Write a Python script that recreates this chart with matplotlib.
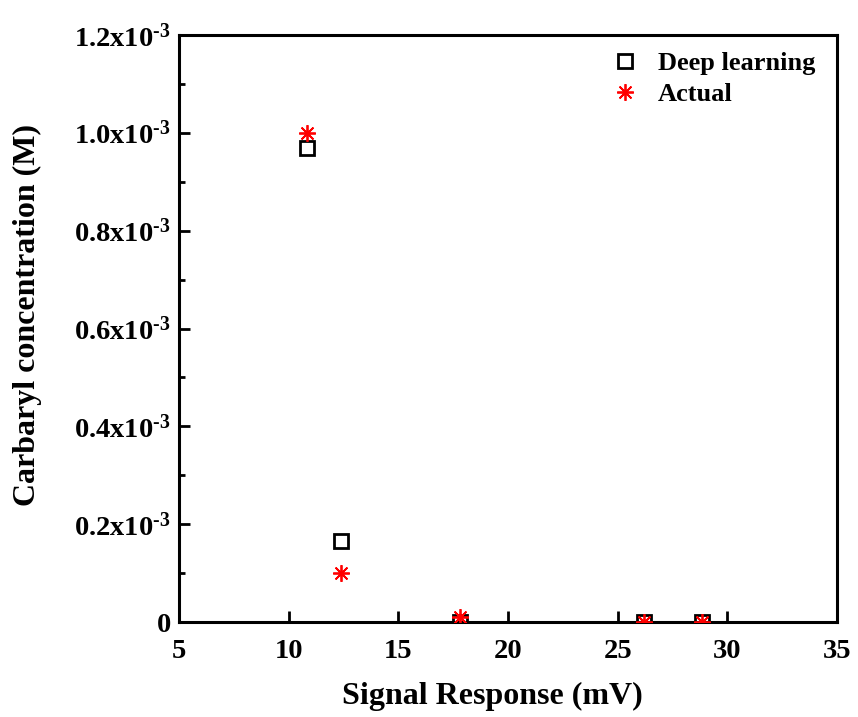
import matplotlib
matplotlib.use("Agg")
import matplotlib.pyplot as plt
from matplotlib.ticker import FuncFormatter, MultipleLocator

plt.rcParams['font.family'] = ['Liberation Serif', 'DejaVu Serif']
plt.rcParams['font.weight'] = 'bold'
plt.rcParams['mathtext.fontset'] = 'custom'
plt.rcParams['mathtext.rm'] = 'Liberation Serif:bold'
plt.rcParams['mathtext.bf'] = 'Liberation Serif:bold'
plt.rcParams['mathtext.default'] = 'bf'

signal = [10.84, 12.37, 17.8, 26.2, 28.83]
deep_learning = [0.97e-3, 0.166e-3, 0.0, 0.0, 0.0]
actual = [1.0e-3, 1.0e-4, 1.0e-5, 1.0e-6, 1.0e-7]

xticks = [5, 10, 15, 20, 25, 30, 35]
yticks = [0, 0.2e-3, 0.4e-3, 0.6e-3, 0.8e-3, 1.0e-3, 1.2e-3]

fig = plt.figure(figsize=(8.58, 7.17), dpi=100)
ax = fig.add_axes([179/858, 95/717, (837-179)/858, (622-35)/717])

ax.plot(signal, deep_learning, linestyle='none', marker='s', markersize=10,
        markerfacecolor='none', markeredgecolor='black', markeredgewidth=2,
        label='Deep learning', zorder=3)
ax.plot(signal, actual, linestyle='none', marker=(8, 2, 0), markersize=12,
        markeredgecolor='red', markeredgewidth=1.3, color='red',
        label='Actual', zorder=4)

ax.set_xlim(5, 35)
ax.set_ylim(0, 1.2e-3)
ax.set_xticks(xticks)
ax.set_yticks(yticks)
ax.yaxis.set_minor_locator(MultipleLocator(0.1e-3))


def yfmt(v, pos):
    if abs(v) < 1e-12:
        return '0'
    return r'%.1fx10$^{\text{-3}}$' % (v * 1e3)


ax.yaxis.set_major_formatter(FuncFormatter(yfmt))

for s in ax.spines.values():
    s.set_linewidth(2.2)
ax.tick_params(axis='both', which='major', direction='in', length=8, width=2,
               labelsize=20.5)
ax.tick_params(axis='x', which='major', pad=12)
ax.tick_params(axis='y', which='minor', direction='in', length=4.5, width=2)
ax.tick_params(axis='y', which='major', pad=6)
ax.tick_params(top=False, right=False, which='both')

ax.set_xlabel('Signal Response (mV)', fontsize=23, fontweight='bold')
ax.set_ylabel('Carbaryl concentration (M)', fontsize=23, fontweight='bold')
ax.xaxis.set_label_coords(0.477, -0.102)
ax.yaxis.set_label_coords(-0.208, 0.523)

leg = ax.legend(loc='upper left', frameon=False, fontsize=19, handletextpad=0.75,
                borderaxespad=0.0, labelspacing=0.28, handlelength=1.0,
                borderpad=0.0, bbox_to_anchor=((612 - 179) / 658, (622 - 52) / 587))

fig.savefig('out.png', dpi=100)
